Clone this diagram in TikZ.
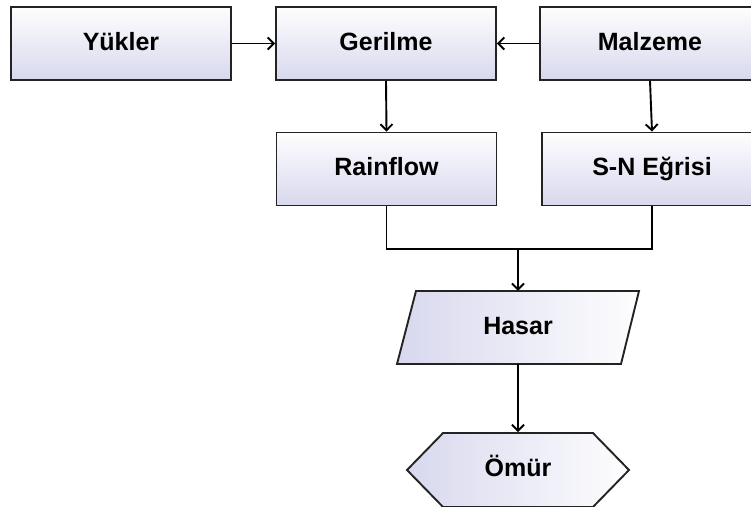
\documentclass[tikz,border=0pt]{standalone}
\usepackage{fontspec}
\setmainfont{Liberation Sans}
\usetikzlibrary{arrows.meta,shapes.symbols}

\definecolor{lav}{RGB}{216,216,238}
\definecolor{edge}{RGB}{35,35,35}

\tikzset{
  label text/.style={font=\fontsize{25}{30}\selectfont\bfseries,
    text height=18pt, text depth=5pt, inner sep=0pt},
  box/.style={label text, draw=edge, line width=1.9pt,
    top color=white!96!lav, bottom color=lav,
    minimum width=220pt, minimum height=73pt},
  hshade/.style={draw=edge, line width=1.9pt, left color=lav, right color=white!96!lav},
  hexa/.style={label text, hshade, signal, signal to=east and west,
    signal pointer angle=91.5, minimum width=222pt, minimum height=74pt},
  link/.style={line width=1.9pt, draw=black},
  flow/.style={link, -{Straight Barb[length=6pt,width=12pt,line width=1.9pt]}}
}

\begin{document}
\begin{tikzpicture}[x=1pt,y=-1pt]
  \clip (0,0) rectangle (751,506);

  \node[box] (yuk) at (121,43.5) {Yükler};
  \node[box] (ger) at (386,43.5) {Gerilme};
  \node[box] (mal) at (650,43.5) {Malzeme};
  \node[box] (rain) at (386.5,169) {Rainflow};
  \node[box] (sn) at (652,169) {S-N Eğrisi};

  % slanted data block
  \path[hshade] (416,291) -- (639,291) -- (621,364) -- (397,364) -- cycle;
  \node[label text, minimum width=224pt, minimum height=73pt] (has) at (518,327.5) {Hasar};

  \node[hexa] (omur) at (518,470) {Ömür};

  \coordinate (join) at (518,249);

  \draw[flow] (yuk.east) -- (ger.west);
  \draw[flow] (mal.west) -- (ger.east);
  \draw[flow] (ger.south) -- (rain.north);
  \draw[flow] (mal.south) -- (sn.north);
  \draw[link] (rain.south) |- (join) -| (sn.south);
  \draw[flow] (join) -- (has.north);
  \draw[flow] (has.south) -- (omur.north);
\end{tikzpicture}
\end{document}
